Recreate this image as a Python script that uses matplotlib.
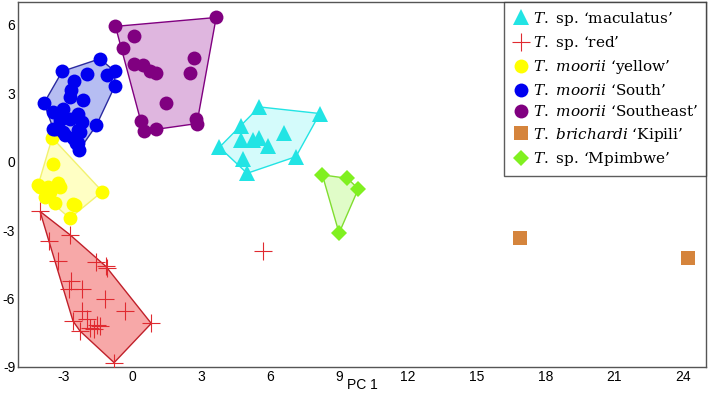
import numpy as np
import matplotlib.pyplot as plt
from matplotlib.patches import Polygon

plt.rcParams['mathtext.fontset'] = 'custom'
plt.rcParams['mathtext.rm'] = 'DejaVu Serif'
plt.rcParams['mathtext.it'] = 'DejaVu Serif:italic'
plt.rcParams['axes.unicode_minus'] = False

# PC scores (PC 1, PC 2)
maculatus_x = [5.52, 8.16, 4.73, 6.61, 4.73, 5.23, 5.49, 5.88, 3.78, 7.12, 4.80, 4.99]
maculatus_y = [2.40, 2.11, 1.56, 1.24, 0.95, 0.97, 1.02, 0.69, 0.63, 0.22, 0.10, -0.51]

red_x = [-4.04, -2.74, -3.65, -3.25, -1.58, -1.17, -1.12, -2.67, -2.77, -2.19, -1.22,
         -0.35, -2.19, -2.60, -2.01, -2.30, -1.55, -1.43, -1.70, -1.87, 0.81, -0.81]
red_y = [-2.18, -3.20, -3.49, -4.37, -4.40, -4.59, -4.66, -5.24, -5.60, -5.60, -6.04,
         -6.55, -6.55, -6.99, -6.91, -7.42, -7.16, -7.21, -7.35, -7.28, -7.09, -8.81]
red_out_x = [5.67]
red_out_y = [-3.93]

yellow_x = [-3.51, -3.47, -4.12, -3.68, -3.25, -3.83, -3.61, -3.39, -2.60, -1.32, -2.74,
            -2.52, -4.04, -3.17]
yellow_y = [1.05, -0.12, -1.02, -1.09, -0.95, -1.53, -1.31, -1.82, -1.86, -1.31, -2.48,
            -1.89, -1.09, -1.09]

south_x = [-1.43, -3.07, -2.01, -1.12, -0.78, -0.78, -2.55, -2.67, -2.16, -2.74, -3.86,
           -3.47, -3.03, -2.38, -3.17, -2.74, -2.23, -1.58, -3.47, -3.03, -2.38, -2.60,
           -2.38, -2.33, -2.96, -2.30, -3.39, -2.45]
south_y = [4.51, 3.96, 3.83, 3.81, 3.96, 3.31, 3.52, 3.13, 2.69, 2.84, 2.58, 2.18, 2.33,
           2.11, 1.82, 1.89, 1.75, 1.60, 1.45, 1.31, 1.38, 1.02, 0.80, 0.51, 1.16, 1.31,
           1.45, 0.80]

southeast_x = [-0.75, 0.06, -0.42, 3.64, 0.06, 0.45, 0.74, 1.00, 2.67, 2.51, 1.46, 0.35,
               0.49, 1.03, 2.77, 2.80]
southeast_y = [5.93, 5.53, 4.98, 6.32, 4.29, 4.25, 3.96, 3.89, 4.54, 3.89, 2.56, 1.79,
               1.34, 1.43, 1.89, 1.67]

kipili_x = [16.90, 24.22]
kipili_y = [-3.35, -4.22]

mpimbwe_x = [8.27, 9.36, 9.84, 9.00]
mpimbwe_y = [-0.58, -0.73, -1.19, -3.13]


def hull(xs, ys):
    pts = sorted(set(zip(xs, ys)))
    def cross(o, a, b):
        return (a[0]-o[0])*(b[1]-o[1]) - (a[1]-o[1])*(b[0]-o[0])
    lower, upper = [], []
    for p in pts:
        while len(lower) >= 2 and cross(lower[-2], lower[-1], p) <= 0:
            lower.pop()
        lower.append(p)
    for p in reversed(pts):
        while len(upper) >= 2 and cross(upper[-2], upper[-1], p) <= 0:
            upper.pop()
        upper.append(p)
    return np.array(lower[:-1] + upper[:-1])


fig = plt.figure(figsize=(7.09, 3.93), dpi=100)
ax = fig.add_axes([0.0254, 0.0662, 0.9704, 0.9288])

groups = [
    (maculatus_x, maculatus_y, '#22e4e4', '#d4fbfb', '#22e4e4', '^', 11, r'$\mathit{T.}$ sp. ‘maculatus’'),
    (red_x, red_y, '#e02a30', '#f7a8a8', '#c0202a', '+', 13, r'$\mathit{T.}$ sp. ‘red’'),
    (yellow_x, yellow_y, '#ffff00', '#ffffc4', '#f2f270', 'o', 10, r'$\mathit{T.\ moorii}$ ‘yellow’'),
    (south_x, south_y, '#0000f0', '#b6bdf2', '#2a2aa0', 'o', 10, r'$\mathit{T.\ moorii}$ ‘South’'),
    (southeast_x, southeast_y, '#800080', '#dfb6df', '#800080', 'o', 10, r'$\mathit{T.\ moorii}$ ‘Southeast’'),
    (kipili_x, kipili_y, '#d5843c', None, None, 's', 10, r'$\mathit{T.\ brichardi}$ ‘Kipili’'),
    (mpimbwe_x, mpimbwe_y, '#80f020', '#e0fcc8', '#80dd30', 'D', 8, r'$\mathit{T.}$ sp. ‘Mpimbwe’'),
]

for xs, ys, c, fill, edge, m, ms, lab in groups:
    if fill is not None:
        ax.add_patch(Polygon(hull(xs, ys), closed=True, facecolor=fill, edgecolor=edge,
                             lw=1, zorder=1))
    if m == '+':
        ax.plot(xs, ys, ls='none', marker=m, ms=ms, mew=0.8, color=c, label=lab, zorder=3)
    else:
        ax.plot(xs, ys, ls='none', marker=m, ms=ms, mew=0, color=c, label=lab, zorder=3)

ax.plot(red_out_x, red_out_y, ls='none', marker='+', ms=13, mew=0.8, color='#e02a30', zorder=3)

ax.set_xlim(-5, 25)
ax.set_ylim(-9, 7)
ax.set_xticks(np.arange(-3, 25, 3))
ax.set_yticks(np.arange(-9, 7, 3))
ax.tick_params(length=0, labelsize=10)
ax.tick_params(axis='y', pad=2)
ax.tick_params(axis='x', pad=2)
for lab in ax.get_xticklabels() + ax.get_yticklabels():
    lab.set_family('Liberation Sans')
ax.set_xlabel('PC 1', family='Liberation Sans', fontsize=10, labelpad=-4)
for s in ax.spines.values():
    s.set_color('#555555')
    s.set_linewidth(1)

leg = ax.legend(loc='upper right', borderaxespad=0, frameon=True,
                fancybox=False, handletextpad=0.2, handlelength=1.2, labelspacing=0.42,
                borderpad=0.5, prop={'family': 'DejaVu Serif', 'size': 11})
leg.get_frame().set_edgecolor('#333333')
leg.get_frame().set_linewidth(1)

fig.savefig('out.png', dpi=100)
